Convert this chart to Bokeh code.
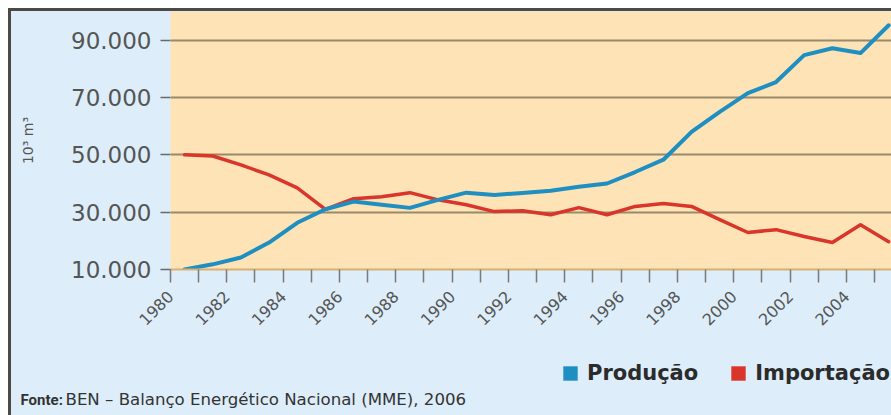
import math
from bokeh.plotting import figure
from bokeh.layouts import column
from bokeh.models import FixedTicker, Range1d, Label, Legend, LegendItem
from bokeh.embed import file_html
from bokeh.resources import INLINE

# ---- data -------------------------------------------------------------
years = list(range(1980, 2006))
producao = [10000, 11800, 14200, 19400, 26300, 31000, 33700, 32600, 31500, 34300,
            36800, 36000, 36700, 37500, 38900, 40000, 44000, 48300, 58000, 65000,
            71500, 75400, 84800, 87200, 85500, 95200]
importacao = [50000, 49600, 46500, 43000, 38500, 31000, 34700, 35400, 36800, 34300,
              32600, 30200, 30500, 29100, 31600, 29100, 32000, 33000, 32000, 27400,
              22900, 23900, 21500, 19400, 25600, 19700]
y_ticks = [10000, 30000, 50000, 70000, 90000]
y_tick_labels = ["10.000", "30.000", "50.000", "70.000", "90.000"]
x_ticks = years
x_tick_labels = [str(y) if y % 2 == 0 else "" for y in years]
series_names = ["Produção", "Importação"]
y_axis_title = "10³ m³"
source_bold = "Fonte:"
source_text = "BEN – Balanço Energético Nacional (MME), 2006"

# ---- style ------------------------------------------------------------
BLUE = "#1f8fc2"
RED = "#d9352b"
ORANGE_BG = "#fde3b5"
BLUE_BG = "#ddeefa"
GRID = "#9a8a6c"
TXT = "#555555"
FONT = "DejaVu Sans"

x_mid = [y + 0.5 for y in years]  # values plotted at mid-year

p = figure(width=880, height=322, output_backend="svg", toolbar_location=None,
           x_range=Range1d(1980, 2005.6), y_range=Range1d(10000, 100000),
           min_border_left=159, min_border_right=0, min_border_top=0,
           min_border_bottom=61)
p.frame_align = False
p.background_fill_color = ORANGE_BG
p.border_fill_color = BLUE_BG
p.outline_line_color = None

p.line(x_mid, importacao, line_color=RED, line_width=3.5, line_join="round", line_cap="round")
p.line(x_mid, producao, line_color=BLUE, line_width=4, line_join="round", line_cap="round")

# grid
p.xgrid.visible = False
p.ygrid.ticker = FixedTicker(ticks=y_ticks)
p.ygrid.grid_line_color = GRID
p.ygrid.grid_line_width = 2

# y axis
p.yaxis.ticker = FixedTicker(ticks=y_ticks)
p.yaxis.major_label_overrides = {t: l for t, l in zip(y_ticks, y_tick_labels)}
p.yaxis.axis_line_color = None
p.yaxis.major_tick_out = 10
p.yaxis.major_tick_in = 0
p.yaxis.major_tick_line_color = "#6a6a6a"
p.yaxis.major_tick_line_width = 1.5
p.yaxis.minor_tick_line_color = None
p.yaxis.major_label_standoff = 9
p.yaxis.major_label_text_font = FONT
p.yaxis.major_label_text_font_size = "23px"
p.yaxis.major_label_text_color = TXT
p.yaxis.axis_label = y_axis_title
p.yaxis.axis_label_standoff = 32
p.yaxis.axis_label_text_font = FONT
p.yaxis.axis_label_text_font_size = "14px"
p.yaxis.axis_label_text_font_style = "normal"
p.yaxis.axis_label_text_color = TXT

# x axis
p.xaxis.ticker = FixedTicker(ticks=x_ticks)
p.xaxis.major_label_overrides = {t: l for t, l in zip(x_ticks, x_tick_labels)}
p.xaxis.axis_line_color = "#d9b070"
p.xaxis.axis_line_width = 2
p.xaxis.major_tick_out = 13
p.xaxis.major_tick_in = 0
p.xaxis.major_tick_line_color = "#7a7a7a"
p.xaxis.major_tick_line_width = 1.5
p.xaxis.minor_tick_line_color = None
p.xaxis.major_label_orientation = math.pi / 4
p.xaxis.major_label_standoff = 11
p.xaxis.major_label_text_font = FONT
p.xaxis.major_label_text_font_size = "16px"
p.xaxis.major_label_text_color = TXT

# ---- footer figure: legend + source -----------------------------------
f = figure(width=880, height=82, output_backend="svg", toolbar_location=None,
           x_range=Range1d(0, 1), y_range=Range1d(0, 1),
           min_border_left=0, min_border_right=0, min_border_top=0, min_border_bottom=0)
f.frame_align = False
f.background_fill_color = BLUE_BG
f.border_fill_color = BLUE_BG
f.outline_line_color = None
f.axis.visible = False
f.grid.visible = False

# zero-size proxies (outside the footer's range) that only feed the legend swatches
qp = f.quad(left=[years[0]], right=[years[0]], top=[producao[0]], bottom=[producao[0]],
            fill_color=BLUE, line_color=None)
qi = f.quad(left=[years[0]], right=[years[0]], top=[importacao[0]], bottom=[importacao[0]],
            fill_color=RED, line_color=None)
legend = Legend(items=[LegendItem(label=series_names[0], renderers=[qp]),
                       LegendItem(label=series_names[1], renderers=[qi])],
                location=(550, 30), orientation="horizontal",
                glyph_width=18, glyph_height=18, label_standoff=8, spacing=31,
                padding=0, margin=0, border_line_color=None, background_fill_alpha=0,
                label_text_font=FONT, label_text_font_size="21px",
                label_text_font_style="bold", label_text_color="#2b2b2b")
f.add_layout(legend)

f.add_layout(Label(x=9, y=16, x_units="screen", y_units="screen", text=source_bold,
                   text_font="Roboto", text_font_size="15px", text_baseline="alphabetic",
                   text_font_style="bold", text_color="#333333"))
f.add_layout(Label(x=54, y=16, x_units="screen", y_units="screen", text=source_text,
                   text_font=FONT, text_font_size="16.6px", text_baseline="alphabetic",
                   text_color="#333333"))

layout = column(p, f, spacing=0,
                styles={"margin-top": "8px", "margin-left": "8px",
                        "background-color": BLUE_BG,
                        "border-top": "3px solid #4a4a46",
                        "border-left": "3px solid #4a4a46",
                        "outline": "8px solid #ffffff"})

open("out.html", "w").write(file_html(layout, INLINE))
